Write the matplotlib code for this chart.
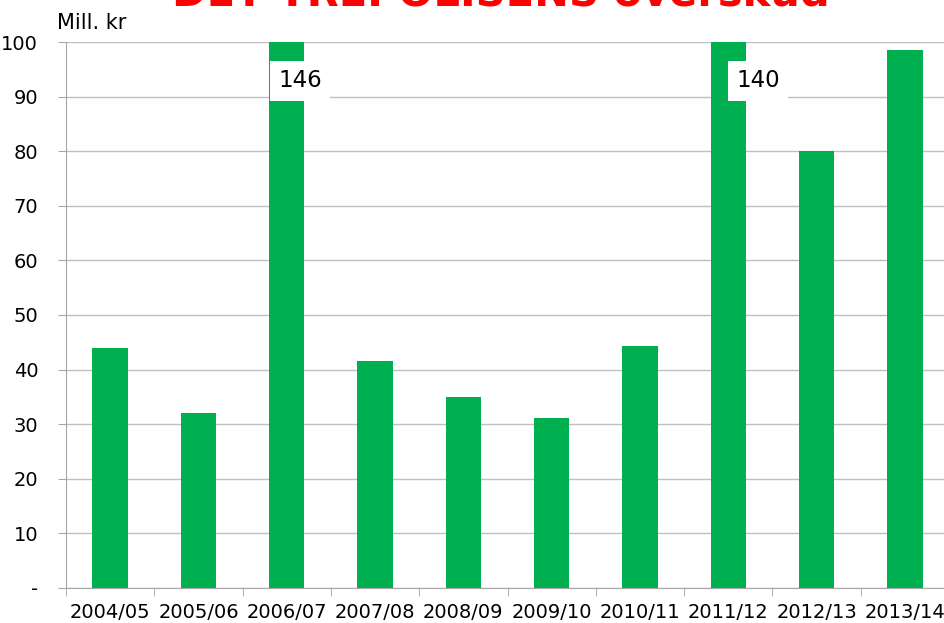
import matplotlib
matplotlib.use("Agg")
import matplotlib.pyplot as plt
import numpy as np

# Mill. kr per regnskabsår
aar = ["2004/05", "2005/06", "2006/07", "2007/08", "2008/09",
       "2009/10", "2010/11", "2011/12", "2012/13", "2013/14"]
overskud = [44.0, 32.0, 146, 41.6, 35.0, 31.1, 44.3, 140, 80.0, 98.5]
y_ticks = [0, 10, 20, 30, 40, 50, 60, 70, 80, 90, 100]
y_labels = ["-", "10", "20", "30", "40", "50", "60", "70", "80", "90", "100"]

groen = "#00B050"
graa = "#A6A6A6"

fig = plt.figure(figsize=(9.45, 6.23), dpi=100)
ax = fig.add_axes([66 / 945, 35 / 623, 883 / 945, 546 / 623])

x = np.arange(len(aar))
ax.bar(x, overskud, width=0.4, color=groen, zorder=2)

ax.set_xlim(-0.5, len(aar) - 0.5)
ax.set_ylim(0, 100)
ax.set_yticks(y_ticks)
ax.set_yticklabels(y_labels, fontsize=14)
ax.set_xticks(x)
ax.set_xticklabels(aar, fontsize=14)
ax.set_xticks(np.arange(-0.5, len(aar)), minor=True)
ax.tick_params(axis="x", which="major", length=0, pad=11)
ax.tick_params(axis="x", which="minor", length=6, color=graa)
ax.tick_params(axis="y", length=6, color=graa, pad=14)

ax.yaxis.grid(True, color="#BFBFBF", linewidth=1, zorder=0)
for side in ["top", "right"]:
    ax.spines[side].set_visible(False)
ax.spines["left"].set_color(graa)
ax.spines["bottom"].set_color(graa)

# værdier over skalaen
for i, v in enumerate(overskud):
    if v > 100:
        dx = 0.15 if i == 2 else 0.34
        ax.text(i + dx, 92.9, f"{v:.0f}", fontsize=16.5, ha="center", va="center",
                bbox=dict(facecolor="white", edgecolor="none", pad=6), zorder=3)

fig.text(57 / 945, 1 - 23 / 623, "Mill. kr", fontsize=15, ha="left", va="center")
fig.text(0.53, 1 - 5 / 623, "DET TREPOLISENS overskud", fontsize=30,
         fontweight="bold", color="#FF0000", ha="center", va="baseline")

fig.savefig("out.png", dpi=100)
